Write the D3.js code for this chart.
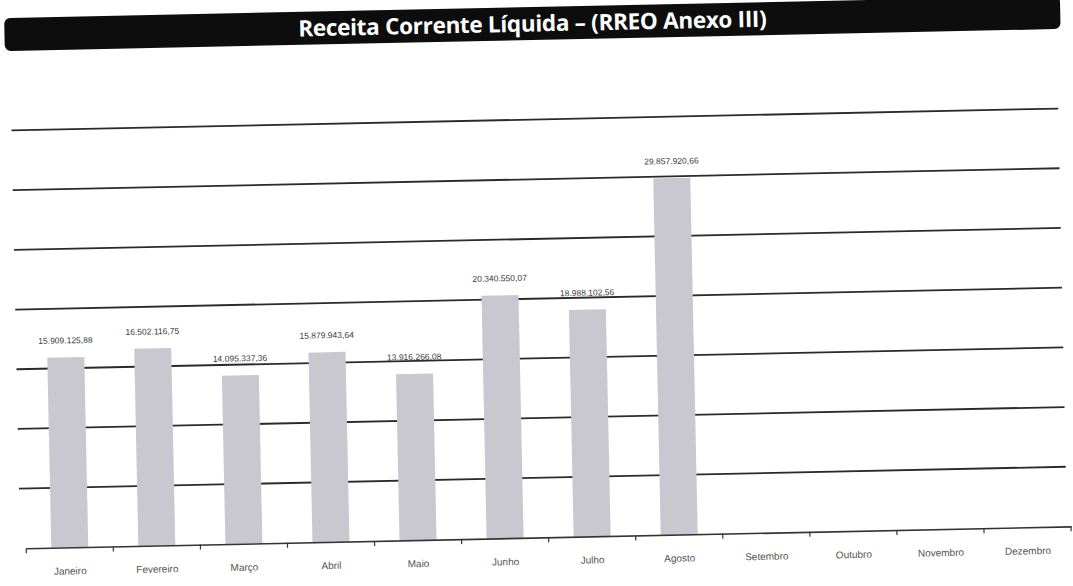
<!DOCTYPE html>
<html>
<head>
<meta charset="utf-8">
<script src="https://cdn.jsdelivr.net/npm/d3@7"></script>
<style>
  html, body { margin: 0; padding: 0; background: #ffffff; }
  svg { display: block; }
</style>
</head>
<body>
<svg id="chart" width="1073" height="586"></svg>
<script>
// Receita Corrente Líquida por mês (R$)
const months = ["Janeiro", "Fevereiro", "Março", "Abril", "Maio", "Junho",
                "Julho", "Agosto", "Setembro", "Outubro", "Novembro", "Dezembro"];
const values = [15909125.88, 16502116.75, 14095337.36, 15879943.64, 13916266.08,
                20340550.07, 18988102.56, 29857920.66, null, null, null, null];
const valueLabels = ["15.909.125,88", "16.502.116,75", "14.095.337,36", "15.879.943,64",
                     "13.916.266,08", "20.340.550,07", "18.988.102,56", "29.857.920,66",
                     "", "", "", ""];
const gridValues = [5e6, 10e6, 15e6, 20e6, 25e6, 30e6, 35e6];
const chartTitle = "Receita Corrente Líquida – (RREO Anexo III)";

const svg = d3.select("#chart");
const W = 1073, H = 586;

// the printed page sits slightly tilted
const root = svg.append("g").attr("transform", `rotate(-1.2, ${W / 2}, ${H / 2})`);

// title banner
root.append("rect")
  .attr("x", 10).attr("y", 7).attr("width", 1056).attr("height", 33)
  .attr("rx", 6).attr("fill", "#0d0d0d");
root.append("text")
  .attr("x", 538).attr("y", 31.5)
  .attr("text-anchor", "middle")
  .attr("font-family", "'Open Sans', 'Liberation Sans', sans-serif")
  .attr("font-weight", "bold").attr("font-size", 22.5)
  .attr("letter-spacing", -0.3)
  .attr("fill", "#ffffff")
  .text(chartTitle);

const x = d3.scaleBand().domain(months).range([21, 1066]).paddingInner(0.575).paddingOuter(0.2875);
const y = d3.scaleLinear().domain([0, 35e6]).range([537.5, 119.5]);

// horizontal gridlines
root.append("g").selectAll("line").data(gridValues).join("line")
  .attr("x1", 15).attr("x2", 1062)
  .attr("y1", d => y(d)).attr("y2", d => y(d))
  .attr("stroke", "#2a2a2a").attr("stroke-width", 1.8);

// bars
const data = months.map((m, i) => ({ m, v: values[i], label: valueLabels[i] })).filter(d => d.v != null);
root.append("g").selectAll("rect").data(data).join("rect")
  .attr("x", d => x(d.m)).attr("width", x.bandwidth())
  .attr("y", d => y(d.v)).attr("height", d => y(0) - y(d.v))
  .attr("fill", "#c9c8d0");

// value labels
root.append("g").selectAll("text").data(data).join("text")
  .attr("x", d => x(d.m) + x.bandwidth() / 2)
  .attr("y", d => y(d.v) - 14)
  .attr("text-anchor", "middle")
  .attr("font-family", "'Liberation Sans', sans-serif")
  .attr("font-size", 8.5)
  .attr("fill", "#3c3c3c")
  .text(d => d.label);

// category axis
const axis = root.append("g").attr("transform", `translate(0, ${y(0)})`)
  .call(d3.axisBottom(x).tickSize(0).tickPadding(20));
axis.select(".domain").attr("stroke", "#333").attr("stroke-width", 1.6);
axis.selectAll(".tick text")
  .attr("font-family", "'Liberation Sans', sans-serif")
  .attr("font-size", 10).attr("fill", "#555");

// tick marks on band boundaries
const step = x.step();
const boundaries = d3.range(months.length + 1).map(i => x.range()[0] + i * step);
root.append("g").selectAll("line").data(boundaries).join("line")
  .attr("x1", d => d).attr("x2", d => d)
  .attr("y1", y(0)).attr("y2", y(0) + 5)
  .attr("stroke", "#333").attr("stroke-width", 1.2);
</script>
</body>
</html>
